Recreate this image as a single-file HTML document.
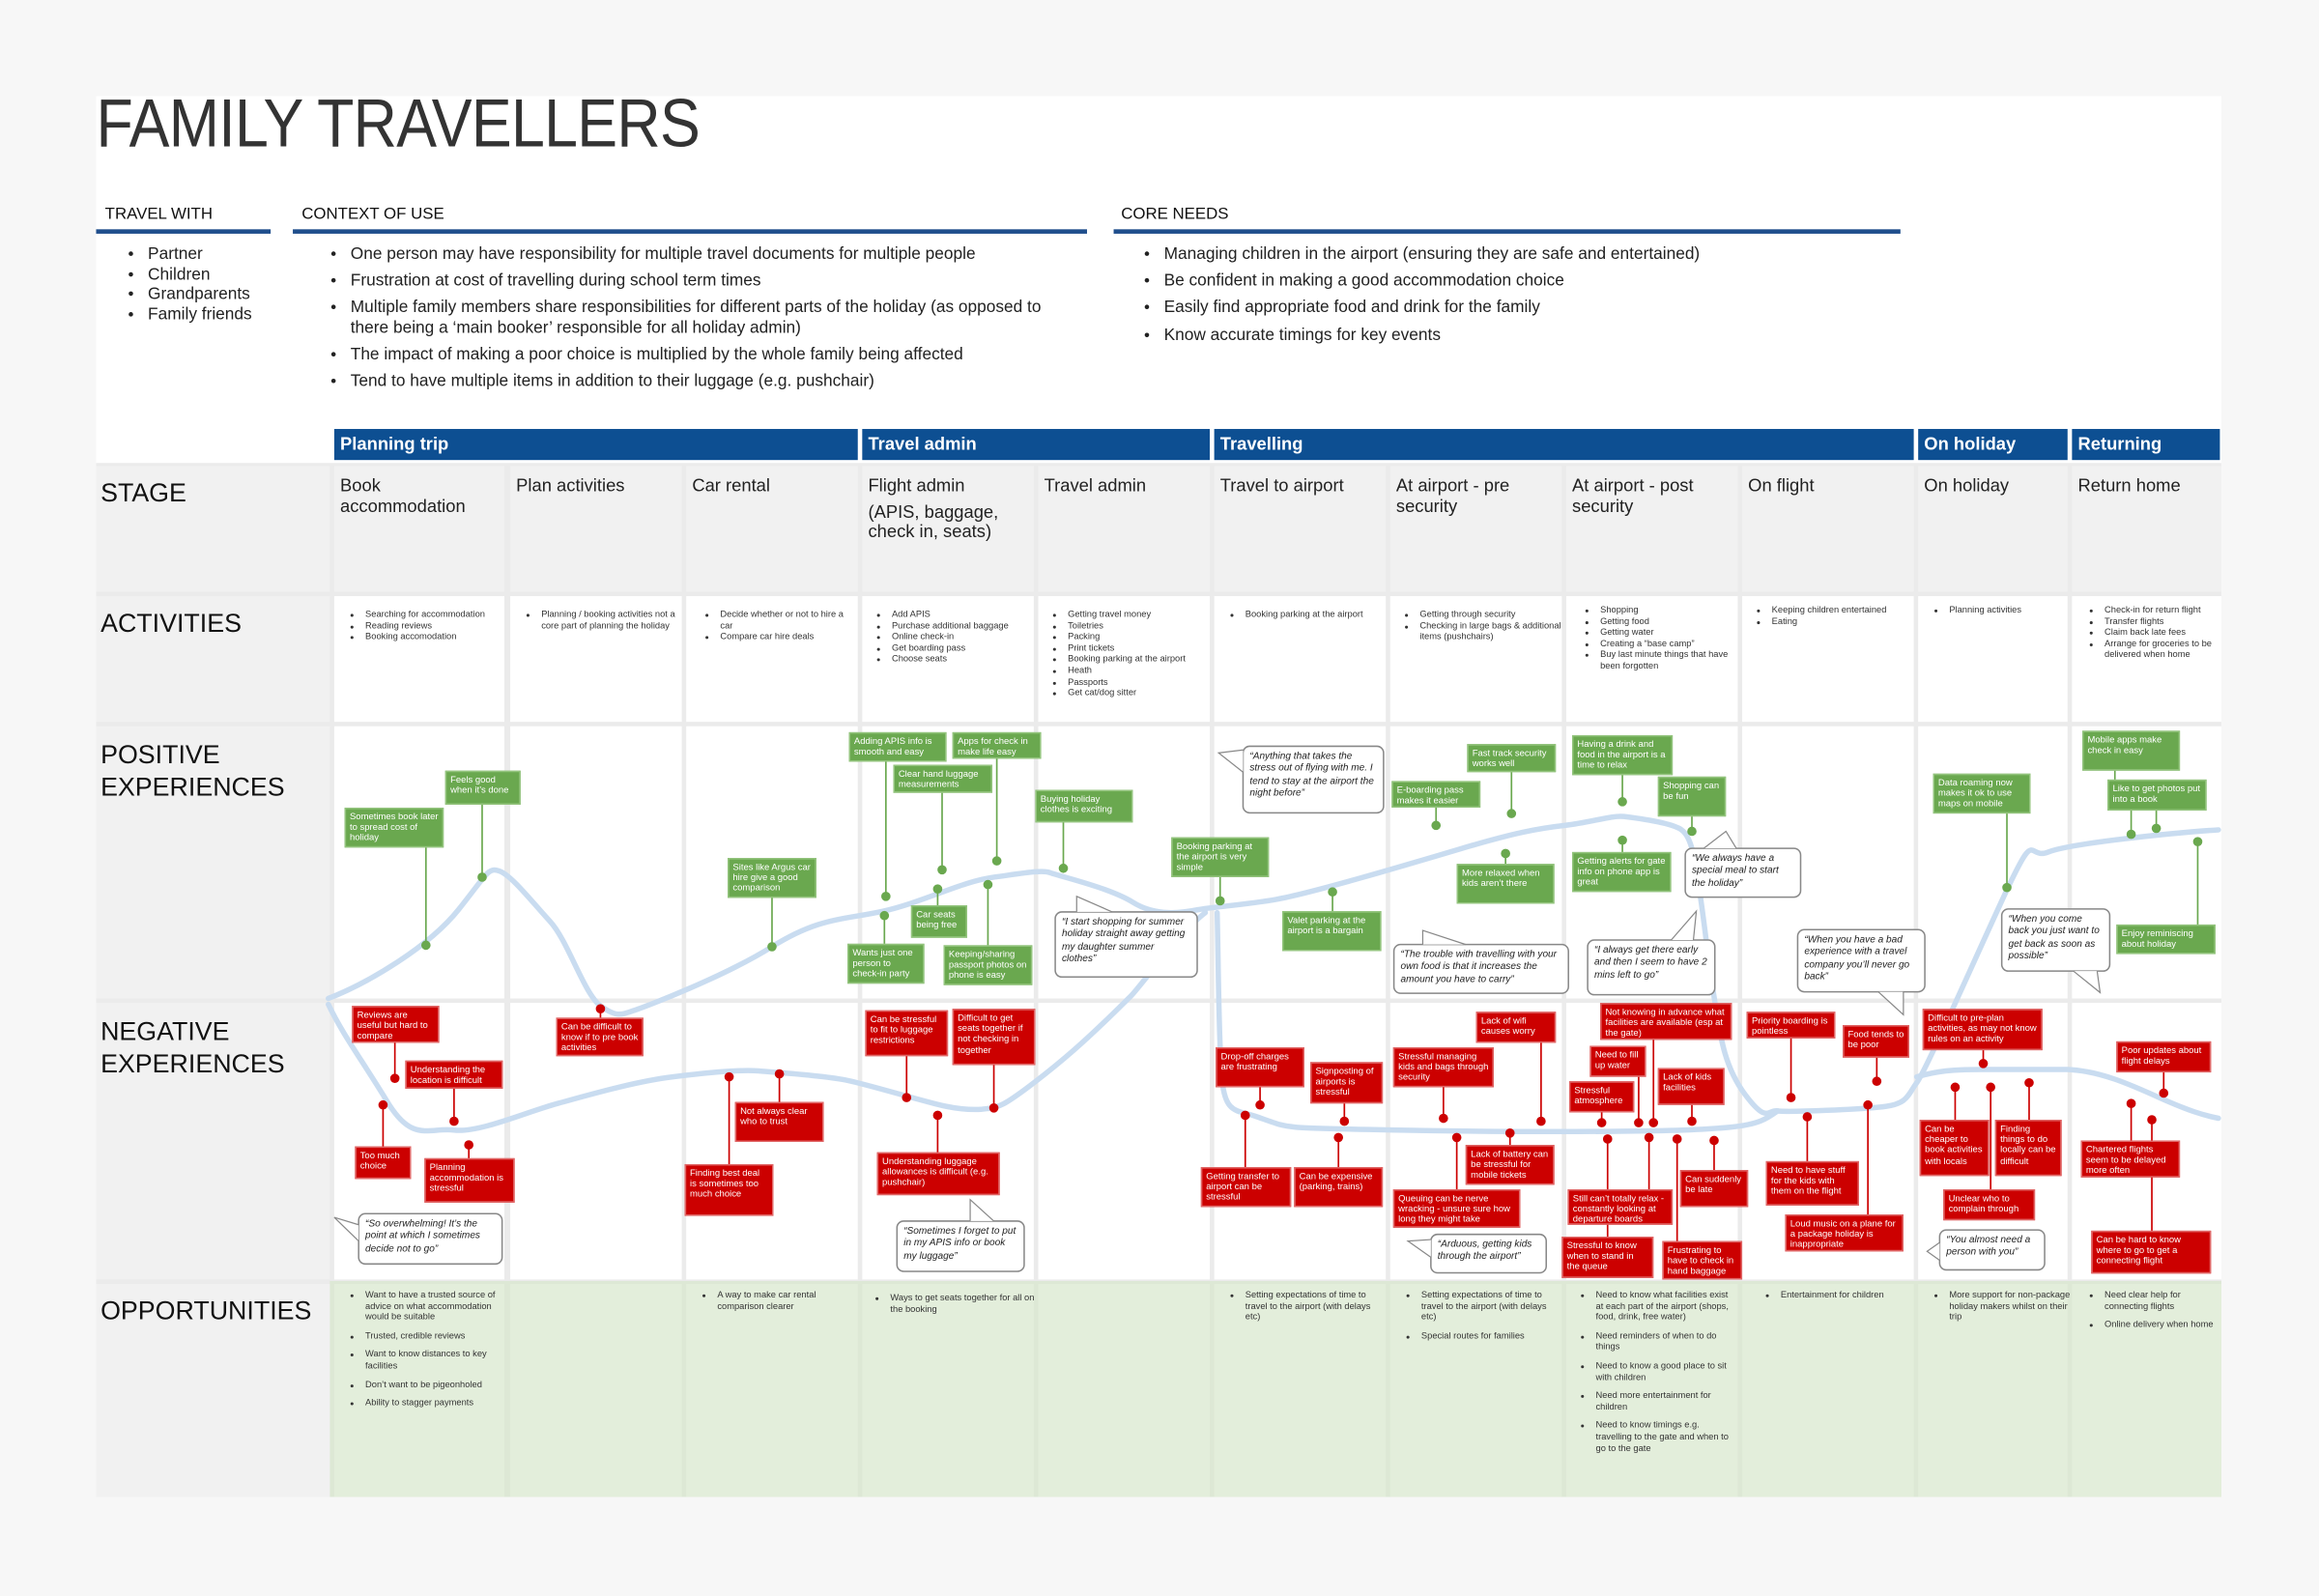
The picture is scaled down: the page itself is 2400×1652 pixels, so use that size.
<!DOCTYPE html>
<html><head><meta charset="utf-8">
<style>
html,body{margin:0;padding:0;width:2400px;height:1652px;overflow:hidden;background:#f7f7f7}
#cv{position:absolute;left:0;top:0;width:1568px;height:1079px;transform:scale(1.5306,1.5311);transform-origin:0 0;font-family:"Liberation Sans",sans-serif;color:#222}
.a{position:absolute}
.cell{position:absolute;background:#fff}
.gr{background:#f1f1f1}
.op{background:#e3eedb}
.bar{position:absolute;top:290px;height:21px;background:#0d4f92;color:#fff;font-weight:bold;font-size:12px;line-height:21px;padding-left:4px;box-sizing:border-box}
.lab{position:absolute;left:68px;font-size:17.5px;line-height:22px;color:#111}
.st{position:absolute;font-size:12px;line-height:13.5px;color:#222}
.n{position:absolute;box-sizing:border-box;font-family:"Liberation Sans Narrow","Liberation Sans",sans-serif;font-size:6.2px;line-height:7.4px;color:#fff;padding:1.5px 2.5px;overflow:hidden}
.g{background:#6aa84f;border:0.6px solid #93c47d}
.r{background:#cc0000;border:0.6px solid #e06666}
.q{position:absolute;box-sizing:border-box;background:#fff;border:0.8px solid #888;border-radius:5px;font-family:"Liberation Sans Narrow","Liberation Sans",sans-serif;font-style:italic;font-size:6.6px;line-height:8.3px;color:#222;padding:3px 4px}
ul{margin:0;padding:0 0 0 14px}
ul.s{position:absolute;font-family:"Liberation Sans Narrow","Liberation Sans",sans-serif;font-size:6.1px;line-height:7.6px;color:#333}
ul.o li{margin-bottom:5px}
ul.t{position:absolute;font-size:11.3px;line-height:13.6px;color:#222;padding-left:11px}
.h{position:absolute;top:139px;font-size:11px;color:#111}
.u{position:absolute;top:155px;height:2.5px;background:#1f4e8c}
</style></head><body><div id="cv">
<div class="a" style="left:65px;top:65px;width:1437px;height:947px;background:#fff"></div>
<div class="a" style="left:65px;top:53px;font-size:46px;line-height:60px;color:#333;letter-spacing:-0.5px;transform:scaleX(0.89);transform-origin:0 0">FAMILY TRAVELLERS</div>

<div class="h" style="left:71px">TRAVEL WITH</div><div class="u" style="left:65px;width:118px"></div>
<div class="h" style="left:204px">CONTEXT OF USE</div><div class="u" style="left:198px;width:537px"></div>
<div class="h" style="left:758px">CORE NEEDS</div><div class="u" style="left:753px;width:532px"></div>

<ul class="t" style="left:89px;top:166px;width:100px"><li>Partner</li><li>Children</li><li>Grandparents</li><li>Family friends</li></ul>
<ul class="t" style="left:226px;top:166px;width:488px;line-height:13.6px">
<li style="margin-bottom:4.4px">One person may have responsibility for multiple travel documents for multiple people</li>
<li style="margin-bottom:4.4px">Frustration at cost of travelling during school term times</li>
<li style="margin-bottom:4.4px">Multiple family members share responsibilities for different parts of the holiday (as opposed to there being a ‘main booker’ responsible for all holiday admin)</li>
<li style="margin-bottom:4.4px">The impact of making a poor choice is multiplied by the whole family being affected</li>
<li>Tend to have multiple items in addition to their luggage (e.g. pushchair)</li></ul>
<ul class="t" style="left:776px;top:166px;width:510px">
<li style="margin-bottom:4.6px">Managing children in the airport (ensuring they are safe and entertained)</li>
<li style="margin-bottom:4.6px">Be confident in making a good accommodation choice</li>
<li style="margin-bottom:4.6px">Easily find appropriate food and drink for the family</li>
<li>Know accurate timings for key events</li></ul>

<div class="bar" style="left:226px;width:354px">Planning trip</div>
<div class="bar" style="left:583px;width:235px">Travel admin</div>
<div class="bar" style="left:821px;width:473px">Travelling</div>
<div class="bar" style="left:1297px;width:101px">On holiday</div>
<div class="bar" style="left:1401px;width:100px">Returning</div>

<div class="a" style="left:65px;top:313px;width:1437px;height:699px;background:#ebebeb"></div>
<div class="a" style="left:223px;top:866px;width:1279px;height:146px;background:#dde8d5"></div>
<div class="cell gr" style="left:65px;top:315px;width:158px;height:85px"></div>
<div class="cell gr" style="left:65px;top:403px;width:158px;height:85px"></div>
<div class="cell gr" style="left:65px;top:491px;width:158px;height:184px"></div>
<div class="cell gr" style="left:65px;top:678px;width:158px;height:187px"></div>
<div class="cell gr" style="left:65px;top:868px;width:158px;height:144px"></div>

<div class="cell gr" style="left:226px;top:315px;width:115px;height:85px"></div>
<div class="cell gr" style="left:345px;top:315px;width:116px;height:85px"></div>
<div class="cell gr" style="left:464px;top:315px;width:116px;height:85px"></div>
<div class="cell gr" style="left:583px;top:315px;width:116px;height:85px"></div>
<div class="cell gr" style="left:702px;top:315px;width:116px;height:85px"></div>
<div class="cell gr" style="left:821px;top:315px;width:116px;height:85px"></div>
<div class="cell gr" style="left:940px;top:315px;width:116px;height:85px"></div>
<div class="cell gr" style="left:1059px;top:315px;width:116px;height:85px"></div>
<div class="cell gr" style="left:1178px;top:315px;width:116px;height:85px"></div>
<div class="cell gr" style="left:1297px;top:315px;width:101px;height:85px"></div>
<div class="cell gr" style="left:1401px;top:315px;width:101px;height:85px"></div>

<div class="cell" style="left:226px;top:403px;width:115px;height:85px"></div>
<div class="cell" style="left:345px;top:403px;width:116px;height:85px"></div>
<div class="cell" style="left:464px;top:403px;width:116px;height:85px"></div>
<div class="cell" style="left:583px;top:403px;width:116px;height:85px"></div>
<div class="cell" style="left:702px;top:403px;width:116px;height:85px"></div>
<div class="cell" style="left:821px;top:403px;width:116px;height:85px"></div>
<div class="cell" style="left:940px;top:403px;width:116px;height:85px"></div>
<div class="cell" style="left:1059px;top:403px;width:116px;height:85px"></div>
<div class="cell" style="left:1178px;top:403px;width:116px;height:85px"></div>
<div class="cell" style="left:1297px;top:403px;width:101px;height:85px"></div>
<div class="cell" style="left:1401px;top:403px;width:101px;height:85px"></div>

<div class="cell" style="left:226px;top:491px;width:115px;height:184px"></div>
<div class="cell" style="left:345px;top:491px;width:116px;height:184px"></div>
<div class="cell" style="left:464px;top:491px;width:116px;height:184px"></div>
<div class="cell" style="left:583px;top:491px;width:116px;height:184px"></div>
<div class="cell" style="left:702px;top:491px;width:116px;height:184px"></div>
<div class="cell" style="left:821px;top:491px;width:116px;height:184px"></div>
<div class="cell" style="left:940px;top:491px;width:116px;height:184px"></div>
<div class="cell" style="left:1059px;top:491px;width:116px;height:184px"></div>
<div class="cell" style="left:1178px;top:491px;width:116px;height:184px"></div>
<div class="cell" style="left:1297px;top:491px;width:101px;height:184px"></div>
<div class="cell" style="left:1401px;top:491px;width:101px;height:184px"></div>

<div class="cell" style="left:226px;top:678px;width:115px;height:187px"></div>
<div class="cell" style="left:345px;top:678px;width:116px;height:187px"></div>
<div class="cell" style="left:464px;top:678px;width:116px;height:187px"></div>
<div class="cell" style="left:583px;top:678px;width:116px;height:187px"></div>
<div class="cell" style="left:702px;top:678px;width:116px;height:187px"></div>
<div class="cell" style="left:821px;top:678px;width:116px;height:187px"></div>
<div class="cell" style="left:940px;top:678px;width:116px;height:187px"></div>
<div class="cell" style="left:1059px;top:678px;width:116px;height:187px"></div>
<div class="cell" style="left:1178px;top:678px;width:116px;height:187px"></div>
<div class="cell" style="left:1297px;top:678px;width:101px;height:187px"></div>
<div class="cell" style="left:1401px;top:678px;width:101px;height:187px"></div>

<div class="cell op" style="left:226px;top:868px;width:115px;height:144px"></div>
<div class="cell op" style="left:345px;top:868px;width:116px;height:144px"></div>
<div class="cell op" style="left:464px;top:868px;width:116px;height:144px"></div>
<div class="cell op" style="left:583px;top:868px;width:116px;height:144px"></div>
<div class="cell op" style="left:702px;top:868px;width:116px;height:144px"></div>
<div class="cell op" style="left:821px;top:868px;width:116px;height:144px"></div>
<div class="cell op" style="left:940px;top:868px;width:116px;height:144px"></div>
<div class="cell op" style="left:1059px;top:868px;width:116px;height:144px"></div>
<div class="cell op" style="left:1178px;top:868px;width:116px;height:144px"></div>
<div class="cell op" style="left:1297px;top:868px;width:101px;height:144px"></div>
<div class="cell op" style="left:1401px;top:868px;width:101px;height:144px"></div>

<div class="lab" style="top:322px">STAGE</div>
<div class="lab" style="top:410px">ACTIVITIES</div>
<div class="lab" style="top:499px">POSITIVE<br>EXPERIENCES</div>
<div class="lab" style="top:686px">NEGATIVE<br>EXPERIENCES</div>
<div class="lab" style="top:875px">OPPORTUNITIES</div>

<div class="st" style="left:230px;top:322px">Book<br>accommodation</div>
<div class="st" style="left:349px;top:322px">Plan activities</div>
<div class="st" style="left:468px;top:322px">Car rental</div>
<div class="st" style="left:587px;top:322px">Flight admin<div style="margin-top:4px">(APIS, baggage,<br>check in, seats)</div></div>
<div class="st" style="left:706px;top:322px">Travel admin</div>
<div class="st" style="left:825px;top:322px">Travel to airport</div>
<div class="st" style="left:944px;top:322px">At airport - pre<br>security</div>
<div class="st" style="left:1063px;top:322px">At airport - post<br>security</div>
<div class="st" style="left:1182px;top:322px">On flight</div>
<div class="st" style="left:1301px;top:322px">On holiday</div>
<div class="st" style="left:1405px;top:322px">Return home</div>

<ul class="s" style="left:233px;top:412px;width:106px"><li>Searching for accommodation</li><li>Reading reviews</li><li>Booking accomodation</li></ul>
<ul class="s" style="left:352px;top:412px;width:92px"><li>Planning / booking activities not a core part of planning the holiday</li></ul>
<ul class="s" style="left:473px;top:412px;width:92px"><li>Decide whether or not to hire a car</li><li>Compare car hire deals</li></ul>
<ul class="s" style="left:589px;top:412px;width:108px"><li>Add APIS</li><li>Purchase additional baggage</li><li>Online check-in</li><li>Get boarding pass</li><li>Choose seats</li></ul>
<ul class="s" style="left:708px;top:412px;width:112px"><li>Getting travel money</li><li>Toiletries</li><li>Packing</li><li>Print tickets</li><li>Booking parking at the airport</li><li>Heath</li><li>Passports</li><li>Get cat/dog sitter</li></ul>
<ul class="s" style="left:828px;top:412px;width:108px"><li>Booking parking at the airport</li></ul>
<ul class="s" style="left:946px;top:412px;width:96px"><li>Getting through security</li><li>Checking in large bags &amp; additional items (pushchairs)</li></ul>
<ul class="s" style="left:1068px;top:409px;width:90px"><li>Shopping</li><li>Getting food</li><li>Getting water</li><li>Creating a “base camp”</li><li>Buy last minute things that have been forgotten</li></ul>
<ul class="s" style="left:1184px;top:409px;width:108px"><li>Keeping children entertained</li><li>Eating</li></ul>
<ul class="s" style="left:1304px;top:409px;width:92px"><li>Planning activities</li></ul>
<ul class="s" style="left:1409px;top:409px;width:82px"><li>Check-in for return flight</li><li>Transfer flights</li><li>Claim back late fees</li><li>Arrange for groceries to be delivered when home</li></ul>

<ul class="s o" style="left:233px;top:872px;width:92px"><li>Want to have a trusted source of advice on what accommodation would be suitable</li><li>Trusted, credible reviews</li><li>Want to know distances to key facilities</li><li>Don’t want to be pigeonholed</li><li>Ability to stagger payments</li></ul>
<ul class="s o" style="left:471px;top:872px;width:90px"><li>A way to make car rental comparison clearer</li></ul>
<ul class="s o" style="left:588px;top:874px;width:100px"><li>Ways to get seats together for all on the booking</li></ul>
<ul class="s o" style="left:828px;top:872px;width:96px"><li>Setting expectations of time to travel to the airport (with delays etc)</li></ul>
<ul class="s o" style="left:947px;top:872px;width:96px"><li>Setting expectations of time to travel to the airport (with delays etc)</li><li>Special routes for families</li></ul>
<ul class="s o" style="left:1065px;top:872px;width:92px"><li>Need to know what facilities exist at each part of the airport (shops, food, drink, free water)</li><li>Need reminders of when to do things</li><li>Need to know a good place to sit with children</li><li>Need more entertainment for children</li><li>Need to know timings e.g. travelling to the gate and when to go to the gate</li></ul>
<ul class="s o" style="left:1190px;top:872px;width:104px"><li>Entertainment for children</li></ul>
<ul class="s o" style="left:1304px;top:872px;width:84px"><li>More support for non-package holiday makers whilst on their trip</li></ul>
<ul class="s o" style="left:1409px;top:872px;width:82px"><li>Need clear help for connecting flights</li><li>Online delivery when home</li></ul>

<svg class="a" style="left:0;top:0" width="1568" height="1079" viewBox="0 0 1568 1079">
<g fill="none" stroke="#c9dcf0" stroke-width="3.6" stroke-linejoin="round" stroke-linecap="round">
<path d="M222,675 C250,664 290,640 310,615 S330,586 338,589 S360,610 372,623 S395,672 406,680 S420,686 429,683 S490,660 522,640 S570,622 597,616 S650,596 672,593 S705,588 710,590 S750,600 766,610 S800,617 810,615 S840,612 863,608 S950,585 987,574 S1040,560 1058,558 S1090,551 1098,552 S1130,556 1137,561 S1146,580 1150,608 S1155,650 1159,674 S1165,720 1180,740 S1195,750 1202,751 S1260,750 1275,748 S1290,740 1296,732 S1330,660 1354,608 S1370,582 1385,576 S1470,563 1500,561"/>
<path d="M222,679 C232,700 245,717 262,745 S290,762 307,764 S355,752 377,746 S430,731 455,728 S500,723 513,724 S555,727 571,730 S625,745 640,748 S670,751 679,746 S710,724 726,710 S760,678 765,673 S800,628 815,617"/>
<path d="M823,617 C824,660 824,700 826,727 S836,750 850,755 S866,761 876,762 S980,765 1050,765 S1150,764 1170,762 S1195,756 1202,751"/>
<path d="M1296,728 C1310,724 1320,723 1340,723 L1398,723 C1420,724 1440,733 1460,742 S1490,754 1500,756"/>
</g>
<g stroke="#6aa84f" stroke-width="1.1" fill="#6aa84f">
<line x1="288" y1="573" x2="288" y2="639"/><circle cx="288" cy="639" r="2.6"/>
<line x1="326" y1="544" x2="326" y2="593"/><circle cx="326" cy="593" r="2.6"/>
<line x1="522" y1="607" x2="522" y2="640"/><circle cx="522" cy="640" r="2.6"/>
<line x1="599" y1="515" x2="599" y2="606"/><circle cx="599" cy="606" r="2.6"/>
<line x1="674" y1="513" x2="674" y2="582"/><circle cx="674" cy="582" r="2.6"/>
<line x1="637" y1="536" x2="637" y2="588"/><circle cx="637" cy="588" r="2.6"/>
<line x1="634" y1="601" x2="634" y2="612"/><circle cx="634" cy="601" r="2.6"/>
<line x1="598" y1="619" x2="598" y2="638"/><circle cx="598" cy="619" r="2.6"/>
<line x1="668" y1="598" x2="668" y2="639"/><circle cx="668" cy="598" r="2.6"/>
<line x1="719" y1="556" x2="719" y2="587"/><circle cx="719" cy="587" r="2.6"/>
<line x1="825" y1="593" x2="825" y2="609"/><circle cx="825" cy="609" r="2.6"/>
<line x1="901" y1="603" x2="901" y2="616"/><circle cx="901" cy="603" r="2.6"/>
<line x1="971" y1="546" x2="971" y2="558"/><circle cx="971" cy="558" r="2.6"/>
<line x1="1022" y1="522" x2="1022" y2="550"/><circle cx="1022" cy="550" r="2.6"/>
<line x1="1018" y1="577" x2="1018" y2="584"/><circle cx="1018" cy="577" r="2.6"/>
<line x1="1097" y1="524" x2="1097" y2="542"/><circle cx="1097" cy="542" r="2.6"/>
<line x1="1144" y1="552" x2="1144" y2="562"/><circle cx="1144" cy="562" r="2.6"/>
<line x1="1097" y1="568" x2="1097" y2="576"/><circle cx="1097" cy="568" r="2.6"/>
<line x1="1357" y1="550" x2="1357" y2="600"/><circle cx="1357" cy="600" r="2.6"/>
<line x1="1430" y1="521" x2="1430" y2="527"/>
<line x1="1441" y1="548" x2="1441" y2="564"/><circle cx="1441" cy="564" r="2.6"/>
<line x1="1458" y1="548" x2="1458" y2="560"/><circle cx="1458" cy="560" r="2.6"/>
<line x1="1486" y1="569" x2="1486" y2="625"/><circle cx="1486" cy="569" r="2.6"/>
</g>
<g stroke="#cc0000" stroke-width="1.1" fill="#cc0000">
<line x1="267" y1="705" x2="267" y2="729"/><circle cx="267" cy="729" r="2.6"/>
<line x1="307" y1="736" x2="307" y2="758"/><circle cx="307" cy="758" r="2.6"/>
<line x1="259" y1="747" x2="259" y2="775"/><circle cx="259" cy="747" r="2.6"/>
<line x1="317" y1="774" x2="317" y2="783"/><circle cx="317" cy="774" r="2.6"/>
<line x1="406" y1="682" x2="406" y2="688"/><circle cx="406" cy="682" r="2.6"/>
<line x1="527" y1="726" x2="527" y2="745"/><circle cx="527" cy="726" r="2.6"/>
<line x1="493" y1="728" x2="493" y2="787"/><circle cx="493" cy="728" r="2.6"/>
<line x1="613" y1="714" x2="613" y2="742"/><circle cx="613" cy="742" r="2.6"/>
<line x1="672" y1="720" x2="672" y2="749"/><circle cx="672" cy="749" r="2.6"/>
<line x1="634" y1="754" x2="634" y2="779"/><circle cx="634" cy="754" r="2.6"/>
<line x1="852" y1="735" x2="852" y2="747"/><circle cx="852" cy="747" r="2.6"/>
<line x1="909" y1="746" x2="909" y2="758"/><circle cx="909" cy="758" r="2.6"/>
<line x1="842" y1="754" x2="842" y2="789"/><circle cx="842" cy="754" r="2.6"/>
<line x1="905" y1="769" x2="905" y2="789"/><circle cx="905" cy="769" r="2.6"/>
<line x1="976" y1="735" x2="976" y2="756"/><circle cx="976" cy="756" r="2.6"/>
<line x1="1042" y1="705" x2="1042" y2="758"/><circle cx="1042" cy="758" r="2.6"/>
<line x1="985" y1="769" x2="985" y2="804"/><circle cx="985" cy="769" r="2.6"/>
<line x1="1021" y1="766" x2="1021" y2="774"/><circle cx="1021" cy="766" r="2.6"/>
<line x1="1118" y1="703" x2="1118" y2="759"/><circle cx="1118" cy="759" r="2.6"/>
<line x1="1108" y1="728" x2="1108" y2="759"/><circle cx="1108" cy="759" r="2.6"/>
<line x1="1083" y1="752" x2="1083" y2="759"/><circle cx="1083" cy="759" r="2.6"/>
<line x1="1144" y1="747" x2="1144" y2="758"/><circle cx="1144" cy="758" r="2.6"/>
<line x1="1087" y1="770" x2="1087" y2="836"/><circle cx="1087" cy="770" r="2.6"/>
<line x1="1115" y1="769" x2="1115" y2="804"/><circle cx="1115" cy="769" r="2.6"/>
<line x1="1159" y1="771" x2="1159" y2="791"/><circle cx="1159" cy="771" r="2.6"/>
<line x1="1134" y1="770" x2="1134" y2="839"/><circle cx="1134" cy="770" r="2.6"/>
<line x1="1211" y1="702" x2="1211" y2="742"/><circle cx="1211" cy="742" r="2.6"/>
<line x1="1269" y1="715" x2="1269" y2="731"/><circle cx="1269" cy="731" r="2.6"/>
<line x1="1222" y1="755" x2="1222" y2="785"/><circle cx="1222" cy="755" r="2.6"/>
<line x1="1263" y1="747" x2="1263" y2="821"/><circle cx="1263" cy="747" r="2.6"/>
<line x1="1341" y1="710" x2="1341" y2="719"/><circle cx="1341" cy="719" r="2.6"/>
<line x1="1322" y1="735" x2="1322" y2="757"/><circle cx="1322" cy="735" r="2.6"/>
<line x1="1372" y1="732" x2="1372" y2="757"/><circle cx="1372" cy="732" r="2.6"/>
<line x1="1346" y1="735" x2="1346" y2="804"/><circle cx="1346" cy="735" r="2.6"/>
<line x1="1463" y1="725" x2="1463" y2="739"/><circle cx="1463" cy="739" r="2.6"/>
<line x1="1441" y1="746" x2="1441" y2="771"/><circle cx="1441" cy="746" r="2.6"/>
<line x1="1455" y1="757" x2="1455" y2="832"/><circle cx="1455" cy="757" r="2.6"/>
</g>
</svg>

<div class="n g" style="left:233px;top:546px;width:67px;height:27px">Sometimes book later to spread cost of holiday</div>
<div class="n g" style="left:301px;top:521px;width:51px;height:23px">Feels good when it’s done</div>
<div class="n g" style="left:492px;top:580px;width:60px;height:27px">Sites like Argus car hire give a good comparison</div>
<div class="n g" style="left:574px;top:495px;width:66px;height:20px">Adding APIS info is smooth and easy</div>
<div class="n g" style="left:644px;top:495px;width:60px;height:18px">Apps for check in make life easy</div>
<div class="n g" style="left:604px;top:517px;width:67px;height:19px">Clear hand luggage measurements</div>
<div class="n g" style="left:616px;top:612px;width:38px;height:22px">Car seats being free</div>
<div class="n g" style="left:573px;top:638px;width:52px;height:27px">Wants just one person to check-in party</div>
<div class="n g" style="left:638px;top:639px;width:60px;height:27px">Keeping/sharing passport photos on phone is easy</div>
<div class="n g" style="left:700px;top:534px;width:66px;height:22px">Buying holiday clothes is exciting</div>
<div class="n g" style="left:792px;top:566px;width:66px;height:27px">Booking parking at the airport is very simple</div>
<div class="n g" style="left:867px;top:616px;width:67px;height:27px">Valet parking at the airport is a bargain</div>
<div class="n g" style="left:941px;top:528px;width:60px;height:18px">E-boarding pass makes it easier</div>
<div class="n g" style="left:992px;top:503px;width:60px;height:19px">Fast track security works well</div>
<div class="n g" style="left:985px;top:584px;width:66px;height:27px">More relaxed when kids aren’t there</div>
<div class="n g" style="left:1063px;top:497px;width:68px;height:27px">Having a drink and food in the airport is a time to relax</div>
<div class="n g" style="left:1121px;top:525px;width:46px;height:27px">Shopping can be fun</div>
<div class="n g" style="left:1063px;top:576px;width:67px;height:27px">Getting alerts for gate info on phone app is great</div>
<div class="n g" style="left:1307px;top:523px;width:66px;height:27px">Data roaming now makes it ok to use maps on mobile</div>
<div class="n g" style="left:1408px;top:494px;width:66px;height:27px">Mobile apps make check in easy</div>
<div class="n g" style="left:1425px;top:527px;width:67px;height:21px">Like to get photos put into a book</div>
<div class="n g" style="left:1431px;top:625px;width:67px;height:20px">Enjoy reminiscing about holiday</div>

<div class="n r" style="left:238px;top:680px;width:59px;height:25px">Reviews are useful but hard to compare</div>
<div class="n r" style="left:274px;top:717px;width:66px;height:19px">Understanding the location is difficult</div>
<div class="n r" style="left:240px;top:775px;width:38px;height:22px">Too much choice</div>
<div class="n r" style="left:287px;top:783px;width:61px;height:30px">Planning accommodation is stressful</div>
<div class="n r" style="left:376px;top:688px;width:59px;height:26px">Can be difficult to know if to pre book activities</div>
<div class="n r" style="left:497px;top:745px;width:60px;height:27px">Not always clear who to trust</div>
<div class="n r" style="left:463px;top:787px;width:60px;height:35px">Finding best deal is sometimes too much choice</div>
<div class="n r" style="left:585px;top:683px;width:56px;height:31px">Can be stressful to fit to luggage restrictions</div>
<div class="n r" style="left:644px;top:682px;width:56px;height:38px">Difficult to get seats together if not checking in together</div>
<div class="n r" style="left:593px;top:779px;width:83px;height:29px">Understanding luggage allowances is difficult (e.g. pushchair)</div>
<div class="n r" style="left:822px;top:708px;width:60px;height:27px">Drop-off charges are frustrating</div>
<div class="n r" style="left:886px;top:718px;width:49px;height:28px">Signposting of airports is stressful</div>
<div class="n r" style="left:812px;top:789px;width:61px;height:27px">Getting transfer to airport can be stressful</div>
<div class="n r" style="left:875px;top:789px;width:60px;height:27px">Can be expensive (parking, trains)</div>
<div class="n r" style="left:942px;top:708px;width:68px;height:27px">Stressful managing kids and bags through security</div>
<div class="n r" style="left:998px;top:684px;width:54px;height:21px">Lack of wifi causes worry</div>
<div class="n r" style="left:942px;top:804px;width:86px;height:26px">Queuing can be nerve wracking - unsure sure how long they might take</div>
<div class="n r" style="left:991px;top:774px;width:60px;height:27px">Lack of battery can be stressful for mobile tickets</div>
<div class="n r" style="left:1082px;top:678px;width:89px;height:25px">Not knowing in advance what facilities are available (esp at the gate)</div>
<div class="n r" style="left:1075px;top:707px;width:38px;height:21px">Need to fill up water</div>
<div class="n r" style="left:1061px;top:731px;width:44px;height:21px">Stressful atmosphere</div>
<div class="n r" style="left:1121px;top:722px;width:45px;height:25px">Lack of kids facilities</div>
<div class="n r" style="left:1060px;top:804px;width:71px;height:24px">Still can’t totally relax - constantly looking at departure boards</div>
<div class="n r" style="left:1056px;top:836px;width:62px;height:28px">Stressful to know when to stand in the queue</div>
<div class="n r" style="left:1136px;top:791px;width:46px;height:25px">Can suddenly be late</div>
<div class="n r" style="left:1124px;top:839px;width:54px;height:26px">Frustrating to have to check in hand baggage</div>
<div class="n r" style="left:1181px;top:684px;width:60px;height:18px">Priority boarding is pointless</div>
<div class="n r" style="left:1246px;top:693px;width:45px;height:22px">Food tends to be poor</div>
<div class="n r" style="left:1194px;top:785px;width:63px;height:30px">Need to have stuff for the kids with them on the flight</div>
<div class="n r" style="left:1207px;top:821px;width:80px;height:25px">Loud music on a plane for a package holiday is inappropriate</div>
<div class="n r" style="left:1300px;top:682px;width:81px;height:28px">Difficult to pre-plan activities, as may not know rules on an activity</div>
<div class="n r" style="left:1298px;top:757px;width:47px;height:38px">Can be cheaper to book activities with locals</div>
<div class="n r" style="left:1349px;top:757px;width:45px;height:38px">Finding things to do locally can be difficult</div>
<div class="n r" style="left:1314px;top:804px;width:62px;height:21px">Unclear who to complain through</div>
<div class="n r" style="left:1431px;top:704px;width:64px;height:21px">Poor updates about flight delays</div>
<div class="n r" style="left:1407px;top:771px;width:67px;height:25px">Chartered flights seem to be delayed more often</div>
<div class="n r" style="left:1414px;top:832px;width:81px;height:29px">Can be hard to know where to go to get a connecting flight</div>

<div class="q" style="left:242px;top:820px;width:98px;height:35px">“So overwhelming! It’s the point at which I sometimes decide not to go”</div>
<div class="q" style="left:606px;top:825px;width:87px;height:35px">“Sometimes I forget to put in my APIS info or book my luggage”</div>
<div class="q" style="left:713px;top:616px;width:97px;height:45px">“I start shopping for summer holiday straight away getting my daughter summer clothes”</div>
<div class="q" style="left:840px;top:504px;width:96px;height:46px">“Anything that takes the stress out of flying with me. I tend to stay at the airport the night before”</div>
<div class="q" style="left:942px;top:638px;width:119px;height:34px">“The trouble with travelling with your own food is that it increases the amount you have to carry”</div>
<div class="q" style="left:1073px;top:635px;width:87px;height:38px">“I always get there early and then I seem to have 2 mins left to go”</div>
<div class="q" style="left:1139px;top:573px;width:79px;height:34px">“We always have a special meal to start the holiday”</div>
<div class="q" style="left:1215px;top:628px;width:87px;height:43px">“When you have a bad experience with a travel company you’ll never go back”</div>
<div class="q" style="left:1353px;top:614px;width:74px;height:43px">“When you come back you just want to get back as soon as possible”</div>
<div class="q" style="left:1311px;top:831px;width:72px;height:28px">“You almost need a person with you”</div>
<div class="q" style="left:967px;top:834px;width:79px;height:27px">“Arduous, getting kids through the airport”</div>

<svg class="a" style="left:0;top:0" width="1568" height="1079" viewBox="0 0 1568 1079">
<g fill="#fff" stroke="#888" stroke-width="0.8">
<path d="M242.5,828 L226,823 L242.5,839"/>
<path d="M656,825.5 L656,811 L672,825.5"/>
<path d="M728,616.5 L728,606 L752,616.5"/>
<path d="M840.5,507 L824,509 L840.5,522"/>
<path d="M962,638.5 L962,629 L991,638.5"/>
<path d="M1130,635.5 L1147,616 L1145,635.5"/>
<path d="M1152,573.5 L1167,562 L1174,573.5"/>
<path d="M1270,670.5 L1287,686 L1287,670.5"/>
<path d="M1402,656.5 L1420,671 L1418,656.5"/>
<path d="M1311.5,840 L1303,846 L1311.5,852"/>
<path d="M967.5,838 L952,839 L967.5,850"/>
</g>
</svg>
</div></body></html>
